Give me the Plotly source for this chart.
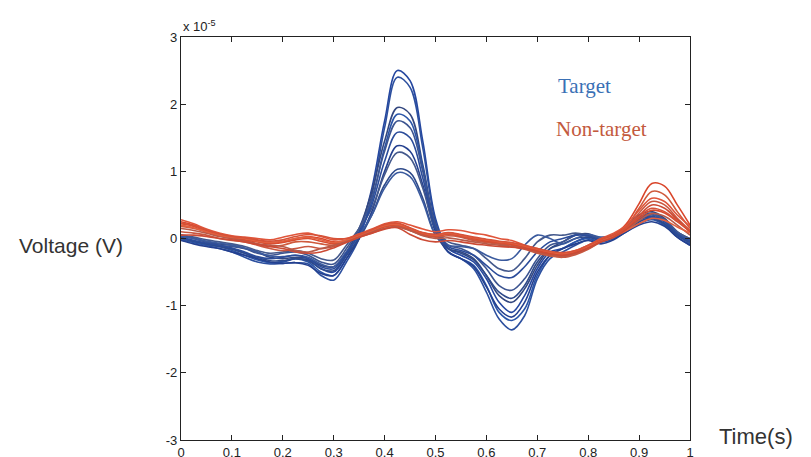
import plotly.graph_objects as go

time_s = [i * 0.025 for i in range(41)]

# Target responses (units of 1e-5 V)
target = [
    [0.02, -0.03, -0.08, -0.12, -0.15, -0.22, -0.3, -0.36, -0.35, -0.3, -0.32, -0.45, -0.5, -0.25, 0.1, 0.75, 1.75, 2.5, 2.35, 1.45, 0.3, -0.15, -0.25, -0.35, -0.6, -0.95, -1.1, -0.85, -0.45, -0.2, -0.15, -0.05, 0.02, -0.02, 0.02, 0.15, 0.28, 0.32, 0.22, 0.05, -0.05],
    [0.0, -0.05, -0.1, -0.15, -0.2, -0.28, -0.35, -0.38, -0.37, -0.36, -0.38, -0.55, -0.62, -0.35, 0.0, 0.65, 1.65, 2.4, 2.25, 1.35, 0.25, -0.2, -0.3, -0.45, -0.8, -1.2, -1.36, -1.15, -0.6, -0.3, -0.2, -0.1, -0.02, -0.05, 0.0, 0.12, 0.25, 0.3, 0.2, 0.02, -0.1],
    [0.05, 0.0, -0.05, -0.08, -0.1, -0.15, -0.2, -0.28, -0.3, -0.28, -0.3, -0.4, -0.42, -0.2, 0.15, 0.7, 1.45, 1.95, 1.85, 1.1, 0.2, -0.15, -0.2, -0.3, -0.55, -0.85, -0.95, -0.75, -0.4, -0.15, -0.05, 0.05, 0.07, 0.0, 0.05, 0.2, 0.35, 0.4, 0.3, 0.1, 0.0],
    [-0.02, -0.06, -0.1, -0.12, -0.18, -0.25, -0.32, -0.36, -0.34, -0.3, -0.35, -0.5, -0.55, -0.3, 0.05, 0.55, 1.35, 1.85, 1.75, 1.05, 0.15, -0.2, -0.3, -0.4, -0.7, -1.1, -1.22, -1.05, -0.55, -0.25, -0.15, -0.05, 0.0, -0.05, 0.0, 0.1, 0.22, 0.28, 0.2, 0.05, -0.08],
    [0.03, 0.0, -0.05, -0.1, -0.12, -0.15, -0.22, -0.25, -0.22, -0.2, -0.25, -0.35, -0.38, -0.15, 0.15, 0.6, 1.3, 1.75, 1.65, 1.0, 0.2, -0.1, -0.15, -0.25, -0.45, -0.7, -0.77, -0.6, -0.3, -0.1, -0.05, 0.05, 0.05, -0.02, 0.05, 0.18, 0.32, 0.38, 0.28, 0.1, -0.02],
    [-0.03, -0.08, -0.12, -0.15, -0.2, -0.25, -0.3, -0.35, -0.37, -0.36, -0.4, -0.52, -0.55, -0.3, 0.0, 0.4, 1.0, 1.38, 1.3, 0.8, 0.1, -0.2, -0.3, -0.42, -0.72, -1.05, -1.17, -0.95, -0.5, -0.25, -0.15, -0.08, -0.03, -0.08, -0.02, 0.1, 0.2, 0.25, 0.18, 0.02, -0.1],
    [0.05, 0.02, -0.02, -0.05, -0.08, -0.12, -0.18, -0.22, -0.2, -0.18, -0.22, -0.3, -0.32, -0.1, 0.15, 0.45, 0.95, 1.28, 1.2, 0.75, 0.15, -0.05, -0.1, -0.15, -0.3, -0.45, -0.48, -0.3, -0.05, 0.05, 0.05, 0.08, 0.05, 0.0, 0.05, 0.18, 0.3, 0.35, 0.28, 0.1, 0.0],
    [0.0, -0.04, -0.08, -0.12, -0.16, -0.22, -0.28, -0.33, -0.33, -0.3, -0.33, -0.45, -0.48, -0.25, 0.0, 0.35, 0.8, 1.03, 0.98, 0.6, 0.05, -0.15, -0.22, -0.32, -0.55, -0.8, -0.89, -0.7, -0.35, -0.15, -0.08, 0.0, 0.02, -0.03, 0.02, 0.12, 0.25, 0.3, 0.22, 0.05, -0.06],
    [0.04, 0.0, -0.04, -0.07, -0.1, -0.14, -0.2, -0.26, -0.27, -0.25, -0.28, -0.38, -0.42, -0.2, 0.05, 0.35, 0.75, 0.98, 0.92, 0.55, 0.05, -0.1, -0.12, -0.15, -0.25, -0.32, -0.3, -0.1, 0.05, 0.0, -0.08, 0.0, 0.06, 0.02, 0.05, 0.15, 0.3, 0.36, 0.25, 0.08, -0.03],
    [0.01, -0.03, -0.07, -0.1, -0.14, -0.2, -0.27, -0.3, -0.28, -0.25, -0.3, -0.42, -0.45, -0.22, 0.08, 0.5, 1.15, 1.58, 1.5, 0.9, 0.15, -0.12, -0.18, -0.25, -0.4, -0.55, -0.58, -0.42, -0.2, -0.05, 0.0, 0.05, 0.04, -0.02, 0.03, 0.15, 0.28, 0.33, 0.25, 0.07, -0.04],
]

# Non-target responses (units of 1e-5 V)
nontarget = [
    [0.25, 0.2, 0.12, 0.06, 0.02, 0.0, -0.03, -0.06, -0.05, 0.0, 0.03, 0.0, -0.05, -0.03, 0.05, 0.12, 0.2, 0.22, 0.15, 0.08, 0.06, 0.08, 0.05, 0.0, -0.03, -0.06, -0.08, -0.12, -0.17, -0.22, -0.24, -0.2, -0.12, -0.02, 0.05, 0.22, 0.52, 0.82, 0.78, 0.5, 0.2],
    [0.18, 0.15, 0.1, 0.05, 0.0, -0.03, -0.08, -0.12, -0.1, -0.05, -0.05, -0.08, -0.1, -0.05, 0.03, 0.1, 0.17, 0.2, 0.12, 0.05, 0.03, 0.06, 0.03, -0.02, -0.05, -0.08, -0.1, -0.14, -0.2, -0.25, -0.27, -0.22, -0.15, -0.05, 0.02, 0.18, 0.45, 0.7, 0.65, 0.4, 0.15],
    [0.28, 0.22, 0.14, 0.08, 0.04, 0.02, 0.0, -0.02, 0.02, 0.06, 0.08, 0.03, -0.02, 0.0, 0.07, 0.14, 0.22, 0.25, 0.2, 0.14, 0.1, 0.13, 0.12, 0.08, 0.05, 0.0, -0.03, -0.1, -0.15, -0.2, -0.22, -0.18, -0.1, 0.0, 0.08, 0.2, 0.42, 0.6, 0.55, 0.35, 0.18],
    [0.1, 0.08, 0.05, 0.0, -0.03, -0.05, -0.1, -0.15, -0.18, -0.15, -0.12, -0.15, -0.12, -0.05, 0.02, 0.08, 0.15, 0.18, 0.12, 0.06, 0.02, 0.04, 0.02, -0.03, -0.06, -0.08, -0.12, -0.16, -0.22, -0.26, -0.28, -0.24, -0.16, -0.05, 0.03, 0.15, 0.38, 0.55, 0.5, 0.3, 0.12],
    [0.22, 0.18, 0.1, 0.04, 0.01, -0.02, -0.05, -0.08, -0.06, -0.02, 0.0, -0.04, -0.08, -0.04, 0.04, 0.1, 0.18, 0.2, 0.14, 0.07, 0.04, 0.07, 0.04, 0.0, -0.04, -0.06, -0.09, -0.13, -0.18, -0.22, -0.24, -0.2, -0.13, -0.04, 0.04, 0.15, 0.3, 0.42, 0.38, 0.25, 0.1],
    [0.15, 0.12, 0.08, 0.03, 0.0, -0.04, -0.08, -0.1, -0.12, -0.18, -0.2, -0.15, -0.1, -0.04, 0.03, 0.1, 0.15, 0.17, 0.12, 0.04, 0.0, 0.01, -0.02, -0.05, -0.08, -0.1, -0.12, -0.15, -0.2, -0.24, -0.26, -0.22, -0.14, -0.05, 0.02, 0.12, 0.27, 0.37, 0.33, 0.2, 0.05],
    [0.2, 0.16, 0.1, 0.05, 0.02, 0.0, -0.04, -0.06, -0.04, 0.0, 0.02, -0.02, -0.06, -0.02, 0.05, 0.12, 0.19, 0.21, 0.15, 0.08, 0.05, 0.08, 0.05, 0.01, -0.02, -0.05, -0.07, -0.11, -0.16, -0.2, -0.23, -0.2, -0.12, -0.04, 0.03, 0.12, 0.22, 0.3, 0.27, 0.17, 0.08],
    [0.05, 0.05, 0.03, 0.0, -0.02, -0.05, -0.09, -0.12, -0.15, -0.2, -0.22, -0.2, -0.14, -0.06, 0.02, 0.08, 0.14, 0.16, 0.06, -0.02, -0.05, -0.03, -0.05, -0.08, -0.1, -0.12, -0.13, -0.15, -0.19, -0.23, -0.25, -0.21, -0.14, -0.05, 0.02, 0.14, 0.34, 0.5, 0.45, 0.28, 0.1],
    [0.23, 0.19, 0.13, 0.07, 0.03, 0.01, -0.02, -0.04, -0.02, 0.03, 0.06, 0.04, 0.0, 0.0, 0.06, 0.13, 0.21, 0.23, 0.16, 0.09, 0.06, 0.09, 0.06, 0.02, -0.01, -0.04, -0.06, -0.1, -0.15, -0.19, -0.21, -0.18, -0.1, -0.01, 0.06, 0.16, 0.33, 0.45, 0.4, 0.26, 0.12],
]

x_ticks = [0, 0.1, 0.2, 0.3, 0.4, 0.5, 0.6, 0.7, 0.8, 0.9, 1]
x_tick_text = ["0", "0.1", "0.2", "0.3", "0.4", "0.5", "0.6", "0.7", "0.8", "0.9", "1"]
y_ticks = [-3, -2, -1, 0, 1, 2, 3]
y_tick_text = ["-3", "-2", "-1", "0", "1", "2", "3"]

blue_shades = ["#2547a0", "#2c4f9e", "#33477f", "#2a55a8", "#3c5490", "#24408f", "#44598c", "#2e4a8a", "#3a5a9e", "#2b4c9a"]
red_shades = ["#d9452a", "#cf5a3c", "#e0553a", "#c9573f", "#d84b2e", "#b85a48", "#e2603f", "#cc4a34", "#d65238"]

fig = go.Figure()
for i, ys in enumerate(target):
    fig.add_trace(go.Scatter(x=time_s, y=ys, mode="lines", line=dict(color=blue_shades[i % len(blue_shades)], width=1.6, shape="spline", smoothing=1.0), showlegend=False, hoverinfo="skip"))
for i, ys in enumerate(nontarget):
    fig.add_trace(go.Scatter(x=time_s, y=ys, mode="lines", line=dict(color=red_shades[i % len(red_shades)], width=1.6, shape="spline", smoothing=1.0), showlegend=False, hoverinfo="skip"))

axis_common = dict(showline=True, linecolor="#222", linewidth=1.2, mirror="ticks", ticks="inside", ticklen=5, tickcolor="#222", showgrid=False, zeroline=False, automargin=False, tickfont=dict(family="Liberation Sans, Arial", size=13, color="#222"))

# The page body adds an 8px offset; the figure is sized to fill the remaining window.
fig.update_layout(
    width=803, height=449,
    margin=dict(l=173, r=121, t=29, b=17),
    paper_bgcolor="white", plot_bgcolor="white",
    xaxis=dict(range=[0, 1], tickvals=x_ticks, ticktext=x_tick_text, **axis_common),
    yaxis=dict(range=[-3, 3], tickvals=y_ticks, ticktext=y_tick_text, **axis_common),
    annotations=[
        dict(text="x 10<sup>-5</sup>", xref="paper", yref="paper", x=0.0, y=1.0, xanchor="left", yanchor="bottom", showarrow=False, yshift=1, font=dict(family="Liberation Sans, Arial", size=13, color="#222")),
        dict(text="Voltage (V)", xref="paper", yref="y", x=-0.217, y=-0.1, xanchor="center", yanchor="middle", showarrow=False, font=dict(family="Liberation Sans, Arial", size=21, color="#333")),
        dict(text="Time(s)", xref="paper", yref="y", x=1.0, y=-2.95, xanchor="left", yanchor="middle", xshift=27, showarrow=False, font=dict(family="Liberation Sans, Arial", size=22, color="#333")),
        dict(text="Target", xref="x", yref="y", x=0.737, y=2.27, xanchor="left", yanchor="middle", showarrow=False, font=dict(family="Liberation Serif, Times New Roman", size=21, color="#3a70b5")),
        dict(text="Non-target", xref="x", yref="y", x=0.733, y=1.63, xanchor="left", yanchor="middle", showarrow=False, font=dict(family="Liberation Serif, Times New Roman", size=21, color="#c35a3e")),
    ],
)

fig.write_html("out.html")
